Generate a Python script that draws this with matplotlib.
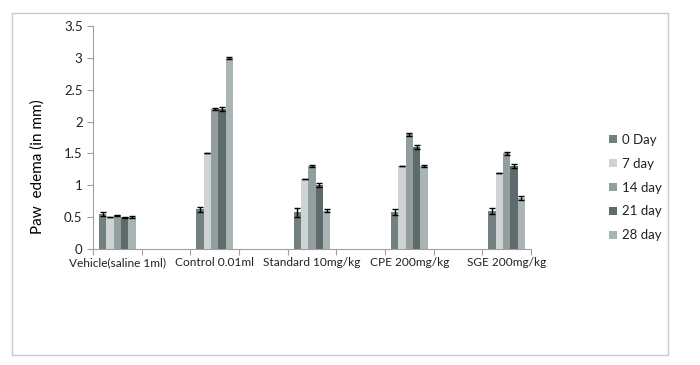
import numpy as np
import matplotlib

matplotlib.use("Agg")
import matplotlib.pyplot as plt
from matplotlib.patches import Rectangle

groups = ["Vehicle(saline 1ml)", "Control 0.01ml", "Standard 10mg/kg",
          "CPE 200mg/kg", "SGE 200mg/kg"]
series = ["0 Day", "7 day", "14 day", "21 day", "28 day"]

# rows = groups, columns = series
means = np.array([
    [0.55, 0.50, 0.53, 0.50, 0.50],
    [0.62, 1.50, 2.20, 2.20, 3.00],
    [0.58, 1.10, 1.30, 1.00, 0.60],
    [0.58, 1.30, 1.80, 1.60, 1.30],
    [0.60, 1.20, 1.50, 1.30, 0.80],
])
errs = np.array([
    [0.03, 0.00, 0.01, 0.01, 0.02],
    [0.04, 0.00, 0.02, 0.03, 0.015],
    [0.07, 0.00, 0.02, 0.03, 0.02],
    [0.05, 0.00, 0.02, 0.03, 0.02],
    [0.05, 0.00, 0.02, 0.03, 0.03],
])

colors = ["#737f80", "#cdd4d3", "#929f9e", "#5e6a6b", "#a9b5b4"]

plt.rcParams["font.family"] = ["Lato", "DejaVu Sans"]
plt.rcParams["text.color"] = "#222222"
plt.rcParams["xtick.labelcolor"] = "#222222"
plt.rcParams["ytick.labelcolor"] = "#222222"

fig = plt.figure(figsize=(7.0, 3.65), dpi=100)
fig.patches.append(Rectangle((12 / 700, 1 - 355 / 365), 656 / 700, 342 / 365,
                             transform=fig.transFigure, fill=False,
                             edgecolor="#c8c8c8", lw=1))
ax = fig.add_axes([93 / 700, 1 - 249 / 365, 438 / 700, 223 / 365])

centers = np.arange(len(groups)) * 2
w = 0.152
for i, name in enumerate(series):
    x = centers + (i - 2) * w
    ax.bar(x, means[:, i], width=w, color=colors[i], label=name, zorder=2)
    ax.errorbar(x, means[:, i], yerr=errs[:, i], fmt="none", ecolor="black",
                elinewidth=1, capsize=2.5, capthick=1, zorder=3)

ax.set_xlim(-0.5, 8.5)
ax.set_ylim(0, 3.5)
ax.set_yticks(np.arange(0, 3.51, 0.5))
ax.set_yticklabels(["0", "0.5", "1", "1.5", "2", "2.5", "3", "3.5"])
ax.set_xticks(np.arange(-0.5, 8.6, 1))
ax.set_xticklabels([])
ax.set_xticks(centers, minor=True)
ax.set_xticklabels(groups, minor=True)
ax.tick_params(axis="x", which="minor", length=0, pad=6, labelsize=8.6)
ax.tick_params(axis="x", which="major", length=4, color="#a0a0a0")
ax.tick_params(axis="y", length=4, color="#a0a0a0", labelsize=9.5)
for s in ("top", "right"):
    ax.spines[s].set_visible(False)
for s in ("left", "bottom"):
    ax.spines[s].set_color("#a0a0a0")
ax.set_ylabel("Paw  edema (in mm)", fontsize=11)
ax.yaxis.set_label_coords(-0.11, 0.37)

handles, labels = ax.get_legend_handles_labels()
fig.legend(handles, labels, loc="upper left", bbox_to_anchor=(597 / 700, 1 - 122 / 365),
           frameon=False, fontsize=9.5, handlelength=0.6, handleheight=0.6,
           handletextpad=0.4, labelspacing=0.9)

fig.savefig("out.png", dpi=100)
